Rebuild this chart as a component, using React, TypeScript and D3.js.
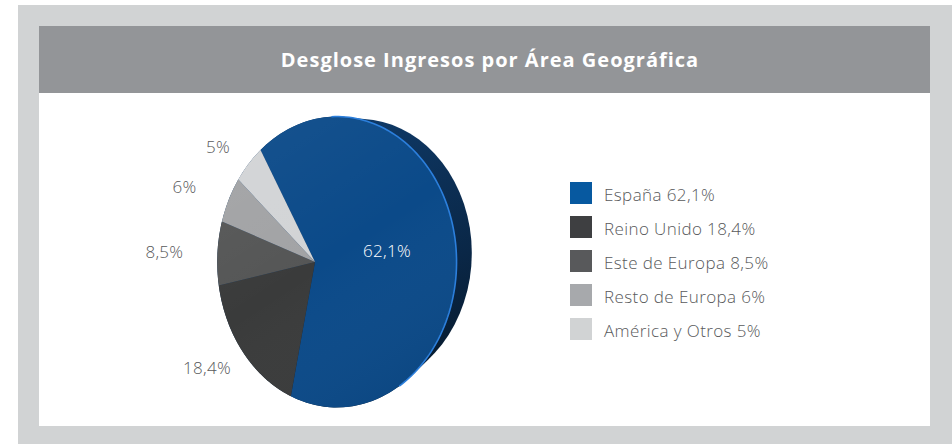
import React from "react";
import * as d3 from "d3";

// chart values
const regions = ["España", "Reino Unido", "Este de Europa", "Resto de Europa", "América y Otros"];
const shares = [62.1, 18.4, 8.5, 6, 5];
const shareText = ["62,1%", "18,4%", "8,5%", "6%", "5%"];
const faceColors = ["#0b4a89", "#3a3b3b", "#555656", "#a2a3a5", "#d2d4d6"];
const keyColors = ["#0759a0", "#3e3f41", "#58595b", "#a7a9ac", "#d1d3d4"];
const title = "Desglose Ingresos por Área Geográfica";

const W = 952;
const H = 444;

// fake 3d pie: disc turned round the vertical axis, seen with a bit of perspective
const hub: [number, number] = [315, 262];
const R = 143;
const turn = (36 * Math.PI) / 180;
const eye = 460;
const thick = 40;
const lift = 0.2;
const startAt = (-31 * Math.PI) / 180;

function project(a: number, r: number, back = 0): [number, number] {
  const x0 = r * Math.sin(a);
  const y0 = -r * Math.cos(a) - back * lift;
  const x = x0 * Math.cos(turn) + back * Math.sin(turn);
  const z = x0 * Math.sin(turn) - back * Math.cos(turn);
  const s = eye / (eye - z);
  return [hub[0] + x * s, hub[1] + y0 * s];
}

function rim(a0: number, a1: number, back = 0, n = 80): [number, number][] {
  return d3.range(n + 1).map((i) => project(a0 + ((a1 - a0) * i) / n, R, back));
}

const font = "'Open Sans', Lato, sans-serif";

export default function App() {
  const pie = d3
    .pie<number>()
    .sort(null)
    .value((d) => d)
    .startAngle(startAt)
    .endAngle(startAt + 2 * Math.PI);
  const arcs = pie(shares);
  const line = d3.line();

  const side = d3.polygonHull([...rim(0, 2 * Math.PI), ...rim(0, 2 * Math.PI, thick)]) || [];
  const face = rim(0, 2 * Math.PI);
  const shine = rim((8 * Math.PI) / 180, (140 * Math.PI) / 180);

  const key = d3.scaleBand<string>().domain(regions).range([182, 182 + 34 * regions.length]);

  return (
    <svg width={W} height={H} style={{ position: "absolute", left: 0, top: 0 }}>
      <defs>
        <linearGradient id="sideFill" gradientUnits="userSpaceOnUse" x1="340" y1="120" x2="470" y2="380">
          <stop offset="0" stopColor="#0f3a68" />
          <stop offset="0.6" stopColor="#0a2747" />
          <stop offset="1" stopColor="#061829" />
        </linearGradient>
        <linearGradient id="faceShade" gradientUnits="userSpaceOnUse" x1="230" y1="115" x2="420" y2="405">
          <stop offset="0" stopColor="#ffffff" stopOpacity="0.05" />
          <stop offset="0.5" stopColor="#ffffff" stopOpacity="0" />
          <stop offset="1" stopColor="#000000" stopOpacity="0.07" />
        </linearGradient>
      </defs>

      <rect x={18} y={5} width={W - 18} height={H - 5} fill="#d1d3d4" />
      <rect x={39} y={26} width={891} height={67} fill="#939598" />
      <rect x={39} y={93} width={891} height={333} fill="#ffffff" />
      <text
        x={490}
        y={67}
        textAnchor="middle"
        fill="#ffffff"
        fontFamily={font}
        fontWeight={700}
        fontSize={20}
        letterSpacing={1}
      >
        {title}
      </text>

      <path d={line(side) + "Z"} fill="url(#sideFill)" />
      {arcs.map((a, i) => (
        <path
          key={regions[i]}
          d={line([hub, ...rim(a.startAngle, a.endAngle)]) + "Z"}
          fill={faceColors[i]}
        />
      ))}
      <path d={line(face) + "Z"} fill="url(#faceShade)" />
      <path d={line(shine) || ""} fill="none" stroke="#2c7fdc" strokeWidth={1.6} />

      {arcs.map((a, i) => {
        const m = (a.startAngle + a.endAngle) / 2;
        const d = i === 0 ? 73 : 151;
        return (
          <text
            key={"l" + i}
            x={hub[0] + d * Math.sin(m)}
            y={hub[1] - d * Math.cos(m)}
            dy="0.4em"
            textAnchor="middle"
            fill={i === 0 ? "#ffffff" : "#58595b"}
            fontFamily={font}
            fontWeight={300}
            fontSize={17}
            letterSpacing={0.3}
          >
            {shareText[i]}
          </text>
        );
      })}

      {regions.map((r, i) => (
        <g key={r} transform={`translate(570,${key(r)})`}>
          <rect width={22} height={22} fill={keyColors[i]} />
          <text
            x={34}
            y={19}
            fill="#58595b"
            fontFamily={font}
            fontWeight={300}
            fontSize={17}
            letterSpacing={0.4}
          >
            {`${r} ${shareText[i]}`}
          </text>
        </g>
      ))}
    </svg>
  );
}
